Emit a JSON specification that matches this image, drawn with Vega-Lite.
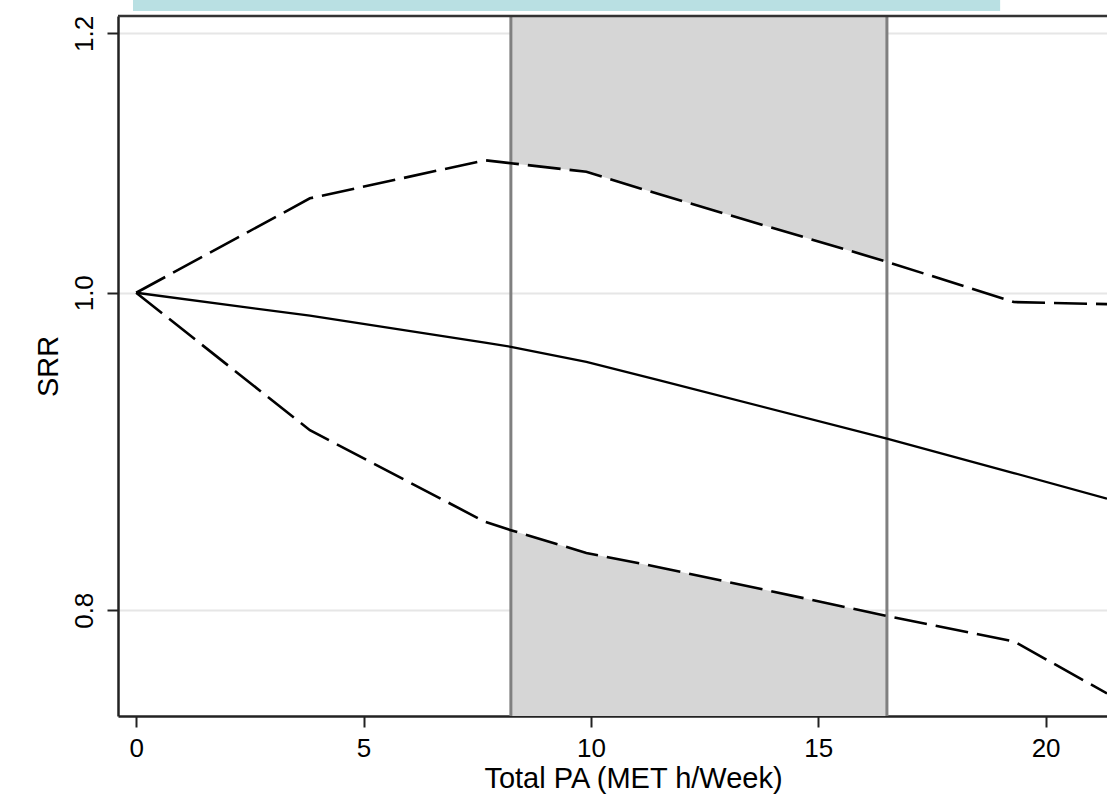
{
  "$schema": "https://vega.github.io/schema/vega-lite/v6.json",
  "width": 989,
  "height": 700,
  "autosize": {"type": "none"},
  "padding": {"left": 118, "top": 16, "right": 0, "bottom": 84},
  "background": "white",
  "config": {
    "view": {"stroke": null},
    "font": "Liberation Sans",
    "axis": {"labelFont": "Liberation Sans", "titleFont": "Liberation Sans", "labelColor": "black", "titleColor": "black", "titleFontWeight": "normal"}
  },
  "datasets": {
    "curve": [
      {"x": 0, "est": 1.0, "lo": 1.0, "hi": 1.0},
      {"x": 3.82, "est": 0.984, "lo": 0.9079, "hi": 1.0686},
      {"x": 7.67, "est": 0.9656, "lo": 0.8513, "hi": 1.0976},
      {"x": 8.24, "est": 0.9627, "lo": 0.8463, "hi": 1.0953},
      {"x": 9.9, "est": 0.9526, "lo": 0.8329, "hi": 1.0887},
      {"x": 11.49, "est": 0.9404, "lo": 0.8246, "hi": 1.0718},
      {"x": 16.51, "est": 0.9026, "lo": 0.7968, "hi": 1.022},
      {"x": 19.3, "est": 0.881, "lo": 0.7827, "hi": 0.9935},
      {"x": 21.35, "est": 0.8653, "lo": 0.7546, "hi": 0.992}
    ],
    "bounds": [{"x": 8.24}, {"x": 16.51}],
    "one": [{"k": 1}]
  },
  "layer": [
    {
      "data": {"name": "curve"},
      "transform": [{"filter": "datum.x >= 8.24 && datum.x <= 16.51"}],
      "mark": {"type": "area", "color": "#d6d6d6", "opacity": 1},
      "encoding": {
        "x": {
          "field": "x", "type": "quantitative",
          "scale": {"domain": [-0.4, 21.35], "nice": false, "zero": false},
          "axis": {
            "title": "Total PA (MET h/Week)", "values": [0, 5, 10, 15, 20], "grid": false,
            "labelFontSize": 26, "titleFontSize": 29, "tickSize": 11, "tickWidth": 2, "tickColor": "#222222",
            "domainColor": "#222222", "domainWidth": 2.5, "labelPadding": 8, "titlePadding": 3,
            "titleX": 515, "titleAlign": "center",
            "labelFlush": false, "labelOverlap": false
          }
        },
        "y": {
          "field": "hi", "type": "quantitative",
          "scale": {"type": "log", "domain": [0.7427, 1.2147], "nice": false, "zero": false},
          "axis": {
            "title": "SRR", "values": [0.8, 1.0, 1.2], "format": ".1f", "labelAngle": -90,
            "grid": true, "gridColor": "#e6e6e6", "gridWidth": 2,
            "labelFontSize": 26, "titleFontSize": 29, "tickSize": 11, "tickWidth": 2, "tickColor": "#222222",
            "domainColor": "#222222", "domainWidth": 2.5, "labelPadding": 10, "titlePadding": 8,
            "labelOverlap": false
          }
        },
        "y2": {"datum": 1.2147}
      }
    },
    {
      "data": {"name": "curve"},
      "transform": [{"filter": "datum.x >= 8.24 && datum.x <= 16.51"}],
      "mark": {"type": "area", "color": "#d6d6d6", "opacity": 1},
      "encoding": {
        "x": {"field": "x", "type": "quantitative"},
        "y": {"field": "lo", "type": "quantitative"},
        "y2": {"datum": 0.7427}
      }
    },
    {
      "data": {"name": "bounds"},
      "mark": {"type": "rule", "color": "#808080", "strokeWidth": 3},
      "encoding": {
        "x": {"field": "x", "type": "quantitative"}
      }
    },
    {
      "data": {"name": "one"},
      "mark": {"type": "rule", "color": "#333333", "strokeWidth": 2.5},
      "encoding": {"y": {"datum": 1.2147, "type": "quantitative"}}
    },
    {
      "data": {"name": "one"},
      "mark": {"type": "rect", "color": "#b9e0e3", "clip": false},
      "encoding": {
        "x": {"datum": -0.07, "type": "quantitative"},
        "x2": {"datum": 19.0},
        "y": {"datum": 1.2284, "type": "quantitative"},
        "y2": {"datum": 1.219}
      }
    },
    {
      "data": {"name": "curve"},
      "mark": {"type": "line", "color": "black", "strokeWidth": 2.6, "strokeDash": [33, 9], "clip": true},
      "encoding": {
        "x": {"field": "x", "type": "quantitative"},
        "y": {"field": "hi", "type": "quantitative"}
      }
    },
    {
      "data": {"name": "curve"},
      "mark": {"type": "line", "color": "black", "strokeWidth": 2.6, "strokeDash": [33, 9], "clip": true},
      "encoding": {
        "x": {"field": "x", "type": "quantitative"},
        "y": {"field": "lo", "type": "quantitative"}
      }
    },
    {
      "data": {"name": "curve"},
      "mark": {"type": "line", "color": "black", "strokeWidth": 2.3, "clip": true},
      "encoding": {
        "x": {"field": "x", "type": "quantitative"},
        "y": {"field": "est", "type": "quantitative"}
      }
    }
  ]
}
